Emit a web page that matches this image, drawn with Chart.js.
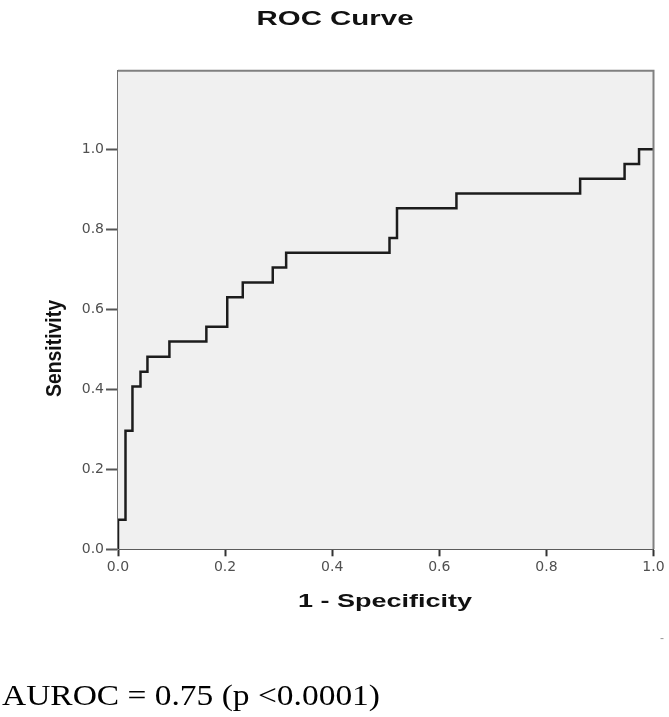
<!DOCTYPE html>
<html>
<head>
<meta charset="utf-8">
<script src="https://cdn.jsdelivr.net/npm/chart.js@4"></script>
<style>
  html, body { margin: 0; padding: 0; background: #fff; }
  canvas { display: block; }
</style>
</head>
<body>
<canvas id="roc" width="669" height="717"></canvas>
<script>
// ROC points (1 - specificity, sensitivity)
const fpr = [0, 0, 0.014, 0.027, 0.042, 0.055, 0.096, 0.165, 0.204, 0.233, 0.289, 0.314, 0.507, 0.521, 0.632, 0.863, 0.946, 0.973, 1.0];
const tpr = [0, 0.074, 0.296, 0.407, 0.444, 0.481, 0.519, 0.556, 0.630, 0.667, 0.704, 0.741, 0.778, 0.852, 0.889, 0.926, 0.963, 1.0, 1.0];
const xTicks = [0, 0.2, 0.4, 0.6, 0.8, 1.0];
const yTicks = [0, 0.2, 0.4, 0.6, 0.8, 1.0];

const titleText = 'ROC Curve';
const xTitle = '1 - Specificity';
const yTitle = 'Sensitivity';
const note = 'AUROC = 0.75 (p <0.0001)';

const points = fpr.map((x, i) => ({ x: x, y: tpr[i] }));

// text is a bit stretched sideways in the original, so scale to the measured widths
function drawStretched(ctx, text, x, y, font, width, align) {
  ctx.save();
  ctx.font = font;
  const w = ctx.measureText(text).width;
  ctx.translate(x, y);
  ctx.scale(width / w, 1);
  ctx.textAlign = align || 'center';
  ctx.textBaseline = 'alphabetic';
  ctx.fillText(text, 0, 0);
  ctx.restore();
}

const frame = {
  id: 'frame',
  beforeDatasetsDraw(chart) {
    const { ctx, chartArea: a } = chart;
    ctx.save();
    ctx.fillStyle = '#f0f0f0';
    ctx.fillRect(a.left, a.top, a.right - a.left, a.bottom - a.top);
    ctx.restore();
  },
  afterDraw(chart) {
    const { ctx, chartArea: a } = chart;
    ctx.save();
    ctx.strokeStyle = '#808080';
    ctx.lineWidth = 2;
    ctx.beginPath();
    ctx.moveTo(a.left, a.top);
    ctx.lineTo(a.right, a.top);
    ctx.lineTo(a.right, a.bottom);
    ctx.stroke();

    ctx.fillStyle = '#111';
    drawStretched(ctx, titleText, 335, 25, 'bold 21px Arial, "Liberation Sans"', 157);
    drawStretched(ctx, xTitle, 385, 607, 'bold 19px Arial, "Liberation Sans"', 174);

    ctx.save();
    ctx.translate(55, 348.5);
    ctx.rotate(-Math.PI / 2);
    ctx.font = 'bold 19px "Liberation Sans Narrow", Arial, "Liberation Sans"';
    const w = ctx.measureText(yTitle).width;
    ctx.scale(97 / w, 1.12);
    ctx.textAlign = 'center';
    ctx.textBaseline = 'middle';
    ctx.fillText(yTitle, 0, 0);
    ctx.restore();

    ctx.fillStyle = '#000';
    drawStretched(ctx, note, 2, 705, '30px "Times New Roman", "Liberation Serif", serif', 378, 'left');

    ctx.fillStyle = '#999';
    ctx.font = '12px Arial';
    ctx.textAlign = 'center';
    ctx.fillText('-', 662, 642);
    ctx.restore();
  }
};

new Chart(document.getElementById('roc'), {
  type: 'line',
  data: {
    datasets: [{
      data: points,
      borderColor: '#1c1c1c',
      borderWidth: 2.5,
      pointRadius: 0,
      stepped: 'before',
      fill: false
    }]
  },
  options: {
    responsive: false,
    animation: false,
    devicePixelRatio: 1,
    layout: { padding: { top: 70.7, right: 15.5, bottom: 137.7, left: 0 } },
    plugins: { legend: { display: false }, tooltip: { enabled: false } },
    scales: {
      x: {
        type: 'linear',
        min: 0,
        max: 1,
        afterFit(scale) { scale.height = 30; },
        afterBuildTicks(scale) { scale.ticks = xTicks.map(v => ({ value: v })); },
        border: { color: '#1a1a1a', width: 2 },
        grid: { display: true, drawOnChartArea: false, drawTicks: true, tickLength: 7, tickColor: '#333', tickWidth: 2 },
        ticks: {
          padding: 3,
          color: '#505050',
          font: { family: '"DejaVu Sans"', size: 14 },
          maxRotation: 0,
          callback: v => Number(v).toFixed(1)
        }
      },
      y: {
        type: 'linear',
        min: 0,
        max: 1.196,
        afterFit(scale) { scale.width = 118; },
        afterBuildTicks(scale) { scale.ticks = yTicks.map(v => ({ value: v })); },
        border: { color: '#707070', width: 2 },
        grid: { display: true, drawOnChartArea: false, drawTicks: true, tickLength: 12, tickColor: '#555', tickWidth: 2 },
        ticks: {
          padding: 2,
          color: '#505050',
          font: { family: '"DejaVu Sans"', size: 14 },
          callback: v => Number(v).toFixed(1)
        }
      }
    }
  },
  plugins: [frame]
});
</script>
</body>
</html>
